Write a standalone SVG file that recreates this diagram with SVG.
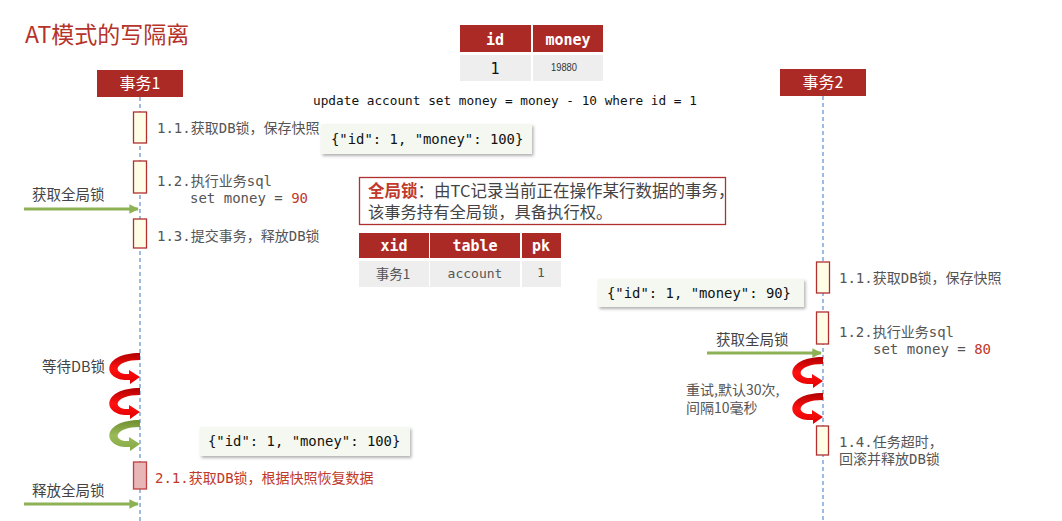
<svg xmlns="http://www.w3.org/2000/svg" width="1062" height="521" viewBox="0 0 1062 521">
<style>
.hdr{fill:#ac2a25}
.hdrt{fill:#fff;font-family:"Noto Sans CJK SC","Noto Sans",sans-serif;font-size:16px;text-anchor:middle}
.life{stroke:#6a98d0;stroke-width:1.3;stroke-dasharray:4 3;fill:none}
.act{fill:#fffde6;stroke:#b03030;stroke-width:1.3}
.lbl{font-family:"DejaVu Sans Mono","Noto Sans CJK SC",monospace;font-size:14px;fill:#555}
.cjk{font-family:"Noto Sans CJK SC","Noto Sans",sans-serif;font-size:14.5px;fill:#444}
.mono{font-family:"DejaVu Sans Mono","Liberation Mono",monospace}
.json{fill:#f4f8f0}
.jsont{font-family:"DejaVu Sans Mono","Liberation Mono",monospace;font-size:13.9px;fill:#111}
.th{font-family:"DejaVu Sans Mono","Liberation Mono",monospace;font-size:15px;font-weight:bold;fill:#fff;text-anchor:middle}
.td{fill:#eeeeee}
.garrow{stroke:#8db255;stroke-width:3;fill:none;marker-end:url(#gh)}
</style>
<defs>
<marker id="gh" viewBox="0 0 10 10" refX="9" refY="5" markerWidth="3.2" markerHeight="3.2" orient="auto" markerUnits="strokeWidth">
<path d="M0,0 L10,5 L0,10 Z" fill="#8db255"/>
</marker>
<filter id="sh" x="-10%" y="-20%" width="130%" height="160%">
<feDropShadow dx="1.5" dy="2" stdDeviation="1.5" flood-color="#000" flood-opacity="0.3"/>
</filter>
<linearGradient id="rg" x1="0" y1="0" x2="0" y2="1">
<stop offset="0" stop-color="#b00000"/>
<stop offset="0.5" stop-color="#ff1010"/>
<stop offset="1" stop-color="#e00000"/>
</linearGradient>
<linearGradient id="gg" x1="0" y1="0" x2="0" y2="1">
<stop offset="0" stop-color="#6f8f30"/>
<stop offset="0.5" stop-color="#9bbb59"/>
<stop offset="1" stop-color="#86a845"/>
</linearGradient>
<path id="curl" d="M0,0 C-40,0 -38,29 -10,27 L-10,31 L0,24 L-11,17 L-11,21 C-28,22 -27,7 0,7 Z"/>
</defs>

<text x="25" y="43" font-family="Noto Sans CJK SC,Noto Sans,sans-serif" font-size="23" fill="#b5332a">AT模式的写隔离</text>

<g id="data-table">
<rect x="460" y="25" width="71" height="27" class="hdr"/>
<rect x="533" y="25" width="70" height="27" class="hdr"/>
<rect x="460" y="55" width="71" height="26" class="td"/>
<rect x="533" y="55" width="70" height="26" class="td"/>
<text x="495" y="45" class="th">id</text>
<text x="568" y="45" class="th">money</text>
<text x="495" y="74" class="mono" font-size="15" text-anchor="middle" fill="#111">1</text>
<text x="551" y="71" font-family="Liberation Sans,sans-serif" font-size="11" fill="#333" textLength="26" lengthAdjust="spacingAndGlyphs">19880</text>
</g>

<text x="313" y="105" class="mono" font-size="12.75" fill="#111">update account set money = money - 10 where id = 1</text>

<g id="tx1">
<rect x="97" y="70" width="86" height="27" class="hdr"/>
<text x="140" y="89" class="hdrt">事务1</text>
</g>
<g id="tx2">
<rect x="780" y="69" width="86" height="27" class="hdr"/>
<text x="823" y="88" class="hdrt">事务2</text>
</g>

<g id="lifelines">
<line x1="140" y1="97" x2="140" y2="521" class="life"/>
<line x1="823" y1="96" x2="823" y2="521" class="life"/>
</g>

<g id="tx1-steps">
<rect x="133.5" y="112" width="13" height="31" class="act"/>
<rect x="133.5" y="161" width="13" height="32" class="act"/>
<rect x="133.5" y="219" width="13" height="29" class="act"/>
<text x="157" y="133" class="lbl">1.1.获取DB锁，保存快照</text>
<text x="157" y="186" class="lbl">1.2.执行业务sql</text>
<text x="190" y="203" class="lbl">set money = <tspan fill="#c0392b">90</tspan></text>
<text x="157" y="241" class="lbl">1.3.提交事务，释放DB锁</text>
<rect x="133.5" y="462" width="13" height="27" fill="#e8b6b6" stroke="#c04040" stroke-width="1.3"/>
<text x="155" y="483" class="lbl" style="fill:#c0392b">2.1.获取DB锁，根据快照恢复数据</text>
</g>

<g id="json1">
<rect x="321" y="124" width="211" height="30" class="json" filter="url(#sh)"/>
<text x="331" y="144" class="jsont">{"id": 1, "money": 100}</text>
</g>
<g id="json2">
<rect x="598" y="279" width="206" height="28" class="json" filter="url(#sh)"/>
<text x="607" y="298" class="jsont">{"id": 1, "money": 90}</text>
</g>
<g id="json3">
<rect x="200" y="427" width="210" height="29" class="json" filter="url(#sh)"/>
<text x="208" y="446" class="jsont">{"id": 1, "money": 100}</text>
</g>

<g id="note">
<rect x="359.5" y="177.5" width="366" height="47" fill="#fff" stroke="#b03030" stroke-width="1.3"/>
<text x="368" y="197" font-family="Noto Sans CJK SC,Noto Sans,sans-serif" font-size="16.5" fill="#444"><tspan fill="#c0392b" font-weight="bold">全局锁</tspan>：由TC记录当前正在操作某行数据的事务，</text>
<text x="368" y="218" font-family="Noto Sans CJK SC,Noto Sans,sans-serif" font-size="16.3" fill="#444">该事务持有全局锁，具备执行权。</text>
</g>

<g id="lock-table">
<rect x="359" y="233" width="70" height="25" class="hdr"/>
<rect x="430" y="233" width="90" height="25" class="hdr"/>
<rect x="522" y="233" width="39" height="25" class="hdr"/>
<rect x="359" y="261" width="70" height="26" class="td"/>
<rect x="430" y="261" width="90" height="26" class="td"/>
<rect x="522" y="261" width="39" height="26" class="td"/>
<text x="394" y="251" class="th">xid</text>
<text x="475" y="251" class="th">table</text>
<text x="541" y="251" class="th">pk</text>
<text x="393" y="279" font-family="Noto Sans CJK SC,sans-serif" font-size="13.5" fill="#555" text-anchor="middle">事务1</text>
<text x="475" y="278" class="mono" font-size="13" fill="#555" text-anchor="middle">account</text>
<text x="541" y="277" class="mono" font-size="13" fill="#555" text-anchor="middle">1</text>
</g>

<g id="tx2-steps">
<rect x="816.5" y="262" width="13" height="31" class="act"/>
<rect x="816.5" y="312" width="12" height="32" class="act"/>
<rect x="816.5" y="426" width="12" height="29" class="act"/>
<text x="839" y="283" class="lbl">1.1.获取DB锁，保存快照</text>
<text x="839" y="337" class="lbl">1.2.执行业务sql</text>
<text x="873" y="354" class="lbl">set money = <tspan fill="#c0392b">80</tspan></text>
<text x="839" y="447" class="lbl">1.4.任务超时，</text>
<text x="839" y="464" class="lbl">回滚并释放DB锁</text>
</g>

<g id="connectors">
<text x="32" y="200" class="cjk">获取全局锁</text>
<line x1="24" y1="209" x2="138" y2="209" class="garrow"/>
<text x="32" y="496" class="cjk">释放全局锁</text>
<line x1="24" y1="504" x2="138" y2="504" class="garrow"/>
<text x="716" y="345" class="cjk">获取全局锁</text>
<line x1="707" y1="353" x2="821" y2="353" class="garrow"/>
<text x="42" y="372" class="cjk">等待DB锁</text>
<use href="#curl" transform="translate(140,353)" fill="url(#rg)"/>
<use href="#curl" transform="translate(140,388)" fill="url(#rg)"/>
<use href="#curl" transform="translate(140,420)" fill="url(#gg)"/>
<use href="#curl" transform="translate(823,357)" fill="url(#rg)"/>
<use href="#curl" transform="translate(823,393)" fill="url(#rg)"/>
<text x="686" y="395" font-family="Noto Sans CJK SC,sans-serif" font-size="14" fill="#555">重试,默认30次,</text>
<text x="686" y="413" font-family="Noto Sans CJK SC,sans-serif" font-size="14" fill="#555">间隔10毫秒</text>
</g>
</svg>
